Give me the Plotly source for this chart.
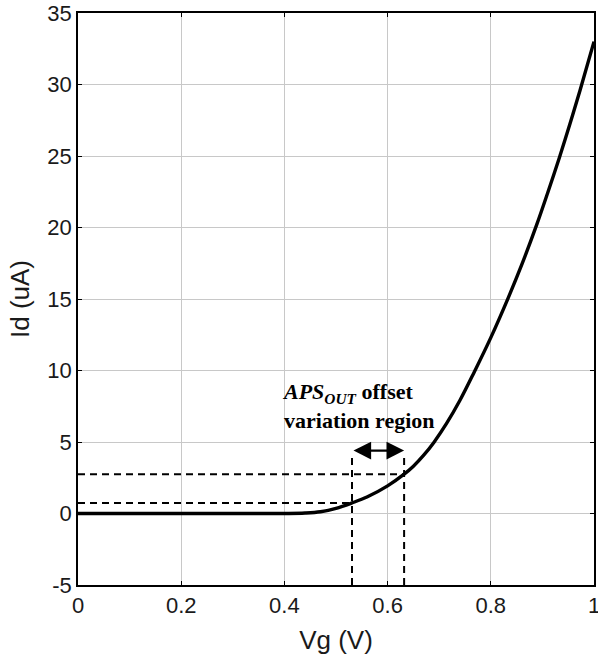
import plotly.graph_objects as go

# Transfer characteristic: gate voltage (V) vs drain current (uA)
vg = [0.0, 0.40, 0.44, 0.47, 0.50, 0.531, 0.56, 0.60, 0.632, 0.65, 0.67,
      0.69, 0.714, 0.74, 0.768, 0.80, 0.834, 0.86, 0.889, 0.91, 0.933,
      0.953, 0.973, 1.0]
id_ua = [0.0, 0.0, 0.03, 0.12, 0.36, 0.74, 1.15, 1.93, 2.75, 3.31, 4.08,
         4.99, 6.28, 7.9, 9.9, 12.3, 15.1, 17.4, 20.2, 22.4, 24.9,
         27.2, 29.6, 33.0]

# Offset variation window (gate voltage bounds and matching currents)
vg_lo, vg_hi = 0.531, 0.632
id_lo, id_hi = 0.74, 2.75
guide_top = 4.1
arrow_y = 4.4

x_ticks = [0, 0.2, 0.4, 0.6, 0.8, 1]
x_tick_text = ["0", "0.2", "0.4", "0.6", "0.8", "1"]
y_ticks = [-5, 0, 5, 10, 15, 20, 25, 30, 35]
y_tick_text = ["-5", "0", "5", "10", "15", "20", "25", "30", "35"]

fig = go.Figure()

dash_style = dict(color="black", width=2, dash="7px,5px")
for xv, yv in ((vg_lo, id_lo), (vg_hi, id_hi)):
    fig.add_trace(go.Scatter(x=[0, xv], y=[yv, yv], mode="lines",
                             line=dash_style, hoverinfo="skip"))
    fig.add_trace(go.Scatter(x=[xv, xv], y=[-5, guide_top], mode="lines",
                             line=dash_style, hoverinfo="skip"))

fig.add_trace(go.Scatter(x=vg, y=id_ua, mode="lines",
                         line=dict(color="black", width=3.4, shape="spline",
                                   smoothing=1.0)))

# Double-headed arrow spanning the window
fig.add_annotation(x=vg_hi, y=arrow_y, ax=vg_lo, ay=arrow_y,
                   xref="x", yref="y", axref="x", ayref="y",
                   text="", showarrow=True, arrowhead=2, startarrowhead=2,
                   arrowside="end+start", arrowsize=1.6, startarrowsize=1.6,
                   arrowwidth=2.2, arrowcolor="black",
                   standoff=0, startstandoff=0)

fig.add_annotation(x=0.391, y=7.5, xref="x", yref="y",
                   xanchor="left", yanchor="middle", align="left",
                   showarrow=False,
                   text="<b><i>APS</i><sub><i>OUT</i></sub> offset</b><br>"
                        "<b>variation region</b>",
                   font=dict(family="Liberation Serif, Times New Roman, serif",
                             size=22, color="black"))

axis_common = dict(showgrid=True, gridcolor="#c8c8c8", gridwidth=1,
                   showline=True, linecolor="black", linewidth=1.5,
                   mirror="ticks", ticks="inside", ticklen=4,
                   tickcolor="black", zeroline=False, automargin=False,
                   ticklabeloverflow="allow",
                   tickfont=dict(family="Liberation Sans, Arial, sans-serif",
                                 size=22, color="#1a1a1a"))

fig.update_xaxes(range=[0, 1], tickvals=x_ticks, ticktext=x_tick_text,
                 title=dict(text="Vg (V)", standoff=14,
                            font=dict(family="Liberation Sans, Arial, sans-serif",
                                      size=26, color="#1a1a1a")),
                 **axis_common)
fig.update_yaxes(range=[-5, 35], tickvals=y_ticks, ticktext=y_tick_text,
                 title=dict(text="Id (uA)", standoff=10,
                            font=dict(family="Liberation Sans, Arial, sans-serif",
                                      size=26, color="#1a1a1a")),
                 **axis_common)

fig.update_layout(width=598, height=666, showlegend=False,
                  plot_bgcolor="white", paper_bgcolor="white",
                  margin=dict(l=78, r=4, t=13, b=81))

fig.write_html("out.html")
